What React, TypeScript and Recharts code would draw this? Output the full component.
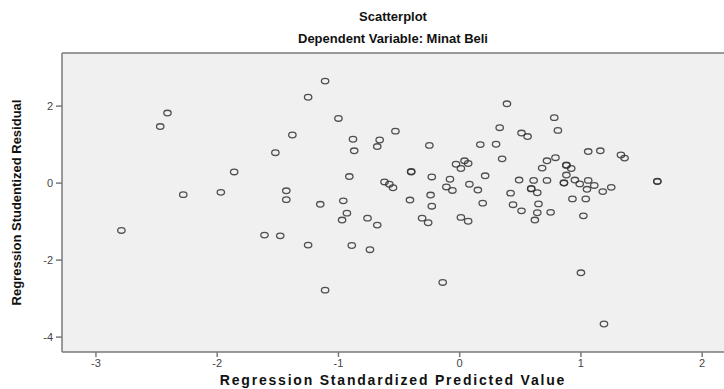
// @ts-nocheck
import React from 'react';
import { ScatterChart, Scatter, XAxis, YAxis, CartesianGrid, ReferenceLine, Label } from 'recharts';

const X_TICKS = [-3, -2, -1, 0, 1, 2];
const Y_TICKS = [-4, -2, 0, 2];

// standardized predicted value
const PREDICTED = [
  -2.79, -2.47, -2.41, -2.28, -1.97, -1.86, -1.61, -1.52, -1.48, -1.43,
  -1.43, -1.38, -1.25, -1.25, -1.15, -1.11, -1.11, -1.0, -0.97, -0.96,
  -0.93, -0.91, -0.89, -0.88, -0.87, -0.76, -0.74, -0.68, -0.68, -0.66,
  -0.62, -0.58, -0.55, -0.53, -0.41, -0.4, -0.4, -0.31, -0.26, -0.25,
  -0.24, -0.23, -0.23, -0.14, -0.11, -0.08, -0.06, -0.03, 0.01, 0.01,
  0.04, 0.07, 0.07, 0.08, 0.15, 0.17, 0.19, 0.21, 0.3, 0.33,
  0.35, 0.39, 0.42, 0.44, 0.49, 0.51, 0.51, 0.56, 0.59, 0.59,
  0.61, 0.62, 0.64, 0.64, 0.65, 0.68, 0.72, 0.72, 0.75, 0.78,
  0.79, 0.81, 0.86, 0.86, 0.88, 0.88, 0.88, 0.92, 0.93, 0.95,
  0.99, 1.0, 1.02, 1.04, 1.05, 1.06, 1.06, 1.11, 1.16, 1.18,
  1.19, 1.25, 1.33, 1.36, 1.63, 1.63,
];

// studentized residual
const RESIDUAL = [
  -1.23, 1.47, 1.82, -0.3, -0.24, 0.29, -1.35, 0.79, -1.37, -0.2,
  -0.43, 1.25, 2.23, -1.61, -0.55, 2.65, -2.78, 1.68, -0.96, -0.46,
  -0.78, 0.17, -1.62, 1.14, 0.84, -0.91, -1.73, 0.95, -1.09, 1.12,
  0.03, -0.03, -0.12, 1.35, -0.44, 0.29, 0.3, -0.91, -1.03, 0.98,
  -0.31, 0.16, -0.6, -2.58, -0.1, 0.1, -0.19, 0.49, 0.38, -0.89,
  0.58, 0.51, -0.99, -0.03, -0.18, 1.0, -0.52, 0.19, 1.01, 1.44,
  0.63, 2.06, -0.26, -0.56, 0.08, 1.3, -0.72, 1.21, -0.14, -0.15,
  0.07, -0.96, -0.25, -0.77, -0.54, 0.39, 0.58, 0.07, -0.76, 1.7,
  0.66, 1.37, 0.01, 0.0, 0.46, 0.47, 0.21, 0.38, -0.41, 0.08,
  -0.02, -2.33, -0.85, -0.41, -0.16, 0.82, 0.07, -0.06, 0.84, -0.22,
  -3.66, -0.11, 0.73, 0.65, 0.04, 0.05,
];

const points = PREDICTED.map((x, i) => ({ x, y: RESIDUAL[i] }));

const X_MIN = -3.28;
const X_MAX = 2.18;
const Y_MIN = -4.387;
const Y_MAX = 3.38;

const FONT = '"Liberation Sans", Arial, sans-serif';

const Ring = ({ cx, cy }) => (
  <ellipse cx={cx} cy={cy} rx={3.7} ry={2.8} fill="none" stroke="#333" strokeWidth={1.3} strokeOpacity={0.85} />
);

export default function App() {
  return (
    <div style={{ position: 'absolute', left: 0, top: 0, width: 724, height: 389, background: '#fff', fontFamily: FONT }}>
      <div style={{ position: 'absolute', left: 0, width: 786, top: 9, textAlign: 'center', fontWeight: 'bold', fontSize: 13, color: '#111' }}>
        Scatterplot
      </div>
      <div style={{ position: 'absolute', left: 0, width: 786, top: 31, textAlign: 'center', fontWeight: 'bold', fontSize: 13, color: '#111' }}>
        Dependent Variable: Minat Beli
      </div>
      <ScatterChart width={724} height={389} margin={{ top: 53, right: 0, bottom: 0, left: 0 }} style={{ position: 'absolute', left: 0, top: 0 }}>
        <CartesianGrid fill="#f0f0f0" horizontal={false} vertical={false} />
        <XAxis
          type="number"
          dataKey="x"
          domain={[X_MIN, X_MAX]}
          ticks={X_TICKS}
          allowDataOverflow
          height={37}
          tickSize={5}
          tickMargin={2}
          stroke="#7a7a7a"
          strokeWidth={1.5}
          tick={{ fontSize: 11, fill: '#444', fontFamily: FONT }}
        >
          <Label
            value="Regression Standardized Predicted Value"
            position="insideBottom"
            offset={4}
            style={{ fontSize: 14, fontWeight: 'bold', letterSpacing: 1.8, fill: '#111', fontFamily: FONT }}
          />
        </XAxis>
        <YAxis
          type="number"
          dataKey="y"
          domain={[Y_MIN, Y_MAX]}
          ticks={Y_TICKS}
          allowDataOverflow
          width={62}
          tickSize={6}
          tickMargin={3}
          stroke="#7a7a7a"
          strokeWidth={1.5}
          tick={{ fontSize: 11, fill: '#444', fontFamily: FONT }}
        >
          <Label
            value="Regression Studentized Residual"
            angle={-90}
            position="insideLeft"
            offset={16}
            style={{ textAnchor: 'middle', fontSize: 13, fontWeight: 'bold', fill: '#111', fontFamily: FONT }}
          />
        </YAxis>
        <ReferenceLine y={Y_MAX} stroke="#7a7a7a" strokeWidth={1.5} />
        <Scatter data={points} shape={<Ring />} isAnimationActive={false} />
      </ScatterChart>
    </div>
  );
}
